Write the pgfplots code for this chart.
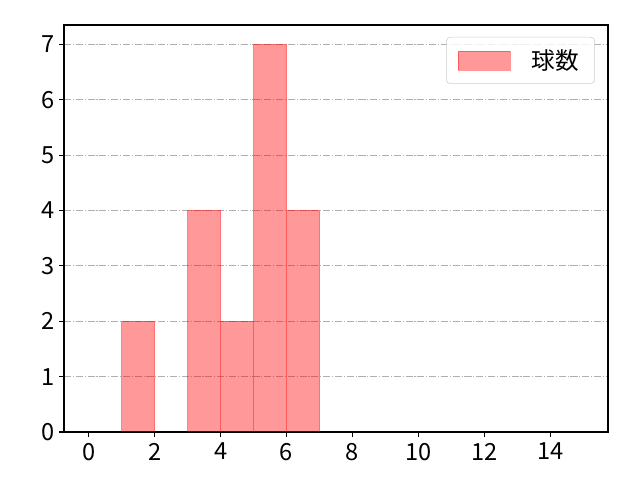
\documentclass[border=0pt]{standalone}
\usepackage{fontspec}
\setmainfont{Noto Sans CJK JP}
\usepackage{pgfplots}
\pgfplotsset{compat=1.18}
\definecolor{gridgray}{RGB}{176,176,176}
\definecolor{framegray}{RGB}{204,204,204}
\begin{document}
\begin{tikzpicture}[font=\fontsize{17}{20}\selectfont]
\path[use as bounding box] (-46.08pt,-34.56pt) rectangle (414.72pt,311.04pt);
\begin{axis}[
  at={(0,0)}, anchor=south west,
  scale only axis, width=391.68pt, height=293.04pt,
  xmin=-0.75, xmax=15.75, ymin=0, ymax=7.35,
  xtick={0,2,...,14}, ytick={0,...,7},
  tick align=outside, xtick pos=bottom, ytick pos=left,
  major tick length=3.5pt,
  tick style={black, line width=0.8pt},
  axis line style={line width=0.8pt},
  ymajorgrids,
  grid style={gridgray, line width=0.8pt, dash pattern=on 5.12pt off 1.28pt on 0.8pt off 1.28pt},
  /pgf/number format/assume math mode=true,
  ticklabel style={font=\fontsize{17}{20}\selectfont},
  xticklabel style={yshift=-1pt},
  legend style={at={(1,1)}, anchor=north east, xshift=-9.4pt, yshift=-8.6pt,
    draw=framegray, rounded corners=2.8pt, fill=white, fill opacity=0.8, text opacity=1,
    inner xsep=8.5pt, inner ysep=6.8pt,
    nodes={inner xsep=3pt, font=\fontsize{17}{20}\selectfont}},
  legend cell align=left,
  legend image code/.code={\path[sharp corners, draw=red, draw opacity=0.4, fill=red, fill opacity=0.4]
    (0pt,-6.85pt) rectangle (37.4pt,6.85pt);},
]
% histogram bars, width 1
\addplot[ybar, bar width=1, fill=red, fill opacity=0.4, draw=red, draw opacity=0.4]
  coordinates {(1.5,2)(3.5,4)(4.5,2)(5.5,7)(6.5,4)};
\addlegendentry{\hspace{12pt}球数}
\end{axis}
\end{tikzpicture}
\end{document}
